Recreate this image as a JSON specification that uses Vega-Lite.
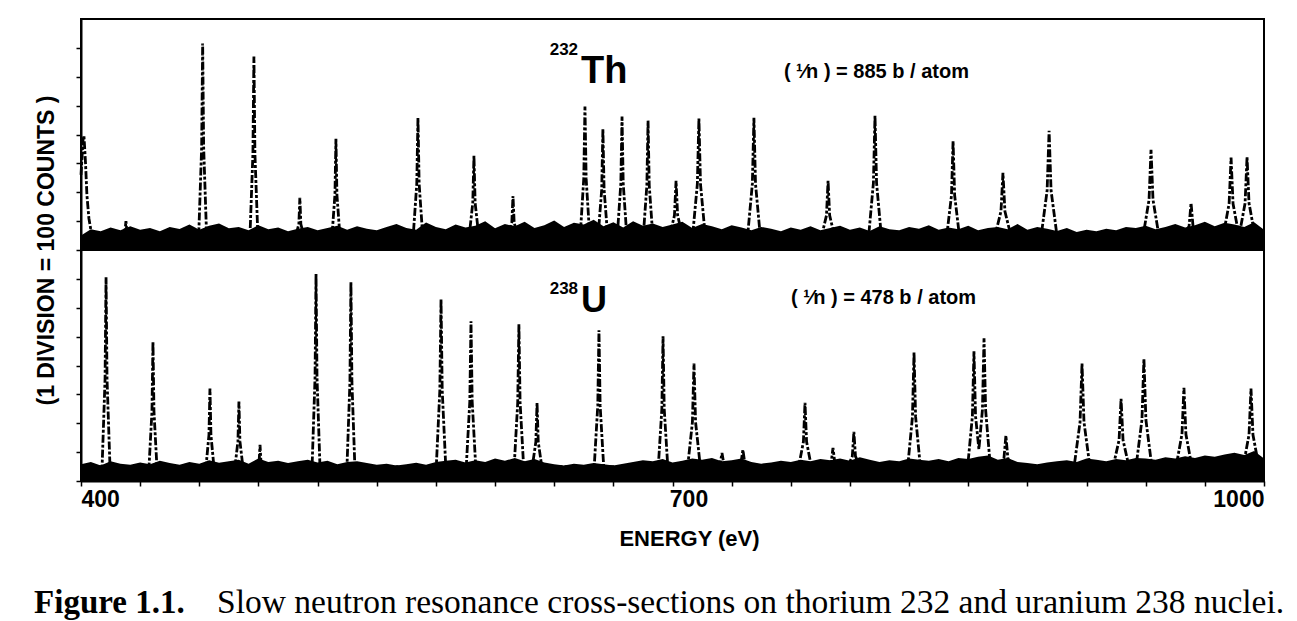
{
  "$schema": "https://vega.github.io/schema/vega-lite/v6.json",
  "background": "white",
  "padding": {"left": 33, "top": 18, "right": 6, "bottom": 4},
  "spacing": 0,
  "bounds": "flush",
  "config": {
    "view": {"stroke": "black", "strokeWidth": 2},
    "axis": {"domainColor": "black", "domainWidth": 2, "tickColor": "black", "tickWidth": 1.5, "labelColor": "black", "titleColor": "black", "grid": false, "labelOverlap": false}
  },
  "datasets": {
    "band": [
      {"e":400,"th":50,"u":58},{"e":405,"th":72,"u":66},{"e":410,"th":65,"u":54},{"e":415,"th":78,"u":68},{"e":420,"th":68,"u":60},
      {"e":425,"th":82,"u":56},{"e":430,"th":70,"u":64},{"e":435,"th":76,"u":58},{"e":440,"th":65,"u":70},{"e":445,"th":80,"u":62},
      {"e":450,"th":73,"u":56},{"e":455,"th":88,"u":66},{"e":460,"th":70,"u":60},{"e":465,"th":84,"u":72},{"e":470,"th":92,"u":63},
      {"e":475,"th":75,"u":68},{"e":480,"th":80,"u":74},{"e":485,"th":68,"u":60},{"e":490,"th":86,"u":78},{"e":495,"th":72,"u":66},
      {"e":500,"th":78,"u":70},{"e":505,"th":65,"u":62},{"e":510,"th":74,"u":68},{"e":515,"th":80,"u":74},{"e":520,"th":68,"u":64},
      {"e":525,"th":76,"u":70},{"e":530,"th":84,"u":58},{"e":535,"th":70,"u":66},{"e":540,"th":82,"u":68},{"e":545,"th":74,"u":62},
      {"e":550,"th":68,"u":56},{"e":555,"th":80,"u":60},{"e":560,"th":90,"u":54},{"e":565,"th":76,"u":58},{"e":570,"th":70,"u":63},
      {"e":575,"th":95,"u":56},{"e":580,"th":80,"u":66},{"e":585,"th":72,"u":70},{"e":590,"th":88,"u":74},{"e":595,"th":78,"u":64},
      {"e":600,"th":84,"u":72},{"e":605,"th":100,"u":66},{"e":610,"th":75,"u":78},{"e":615,"th":90,"u":70},{"e":620,"th":82,"u":80},
      {"e":625,"th":98,"u":68},{"e":630,"th":76,"u":76},{"e":635,"th":86,"u":64},{"e":640,"th":102,"u":58},{"e":645,"th":80,"u":54},
      {"e":650,"th":94,"u":60},{"e":655,"th":88,"u":56},{"e":660,"th":105,"u":62},{"e":665,"th":82,"u":58},{"e":670,"th":96,"u":54},
      {"e":675,"th":78,"u":60},{"e":680,"th":100,"u":66},{"e":685,"th":84,"u":72},{"e":690,"th":92,"u":68},{"e":695,"th":80,"u":76},
      {"e":700,"th":88,"u":64},{"e":705,"th":98,"u":70},{"e":710,"th":76,"u":78},{"e":715,"th":90,"u":74},{"e":720,"th":82,"u":80},
      {"e":725,"th":72,"u":68},{"e":730,"th":86,"u":72},{"e":735,"th":78,"u":78},{"e":740,"th":68,"u":66},{"e":745,"th":80,"u":60},
      {"e":750,"th":74,"u":64},{"e":755,"th":65,"u":70},{"e":760,"th":78,"u":66},{"e":765,"th":70,"u":74},{"e":770,"th":82,"u":68},
      {"e":775,"th":68,"u":76},{"e":780,"th":76,"u":72},{"e":785,"th":84,"u":78},{"e":790,"th":70,"u":70},{"e":795,"th":78,"u":82},
      {"e":800,"th":66,"u":74},{"e":805,"th":82,"u":66},{"e":810,"th":72,"u":72},{"e":815,"th":68,"u":68},{"e":820,"th":80,"u":78},
      {"e":825,"th":74,"u":74},{"e":830,"th":86,"u":70},{"e":835,"th":70,"u":76},{"e":840,"th":78,"u":68},{"e":845,"th":72,"u":80},
      {"e":850,"th":84,"u":76},{"e":855,"th":68,"u":84},{"e":860,"th":76,"u":88},{"e":865,"th":80,"u":74},{"e":870,"th":72,"u":80},
      {"e":875,"th":90,"u":66},{"e":880,"th":70,"u":62},{"e":885,"th":80,"u":58},{"e":890,"th":74,"u":64},{"e":895,"th":66,"u":68},
      {"e":900,"th":76,"u":72},{"e":905,"th":62,"u":66},{"e":910,"th":70,"u":78},{"e":915,"th":65,"u":74},{"e":920,"th":74,"u":68},
      {"e":925,"th":68,"u":76},{"e":930,"th":80,"u":72},{"e":935,"th":76,"u":80},{"e":940,"th":84,"u":78},{"e":945,"th":72,"u":74},
      {"e":950,"th":80,"u":82},{"e":955,"th":90,"u":78},{"e":960,"th":78,"u":86},{"e":965,"th":86,"u":80},{"e":970,"th":98,"u":88},
      {"e":975,"th":82,"u":84},{"e":980,"th":94,"u":92},{"e":985,"th":88,"u":98},{"e":990,"th":80,"u":90},{"e":995,"th":96,"u":104},
      {"e":1000,"th":70,"u":78}
    ],
    "peaks": [
      {"s":"Th","e":400,"c":260},{"s":"Th","e":401,"c":380},{"s":"Th","e":401.5,"c":396},{"s":"Th","e":402.3,"c":300},{"s":"Th","e":403,"c":190},{"s":"Th","e":404,"c":110},{"s":"Th","e":405.5,"c":50},
      {"s":"Th","e":420.8,"c":50},{"s":"Th","e":422.3,"c":65},{"s":"Th","e":422.8,"c":100},{"s":"Th","e":423.3,"c":60},{"s":"Th","e":424.8,"c":50},
      {"s":"Th","e":459.7,"c":50},{"s":"Th","e":461.2,"c":358},{"s":"Th","e":461.7,"c":715},{"s":"Th","e":462.2,"c":358},{"s":"Th","e":463.7,"c":50},
      {"s":"Th","e":485.7,"c":50},{"s":"Th","e":487.2,"c":335},{"s":"Th","e":487.7,"c":670},{"s":"Th","e":488.2,"c":335},{"s":"Th","e":489.7,"c":50},
      {"s":"Th","e":509,"c":50},{"s":"Th","e":510.5,"c":90},{"s":"Th","e":511,"c":181},{"s":"Th","e":511.5,"c":90},{"s":"Th","e":513,"c":50},
      {"s":"Th","e":527.3,"c":50},{"s":"Th","e":528.8,"c":192},{"s":"Th","e":529.3,"c":385},{"s":"Th","e":529.8,"c":192},{"s":"Th","e":531.3,"c":50},
      {"s":"Th","e":568.5,"c":50},{"s":"Th","e":570.3,"c":229},{"s":"Th","e":570.9,"c":458},{"s":"Th","e":571.5,"c":229},{"s":"Th","e":573.3,"c":50},
      {"s":"Th","e":596.9,"c":50},{"s":"Th","e":598.7,"c":163},{"s":"Th","e":599.3,"c":326},{"s":"Th","e":599.9,"c":163},{"s":"Th","e":601.7,"c":50},
      {"s":"Th","e":616.7,"c":50},{"s":"Th","e":618.5,"c":94},{"s":"Th","e":619.1,"c":187},{"s":"Th","e":619.7,"c":94},{"s":"Th","e":621.5,"c":50},
      {"s":"Th","e":653.2,"c":50},{"s":"Th","e":655,"c":248},{"s":"Th","e":655.6,"c":497},{"s":"Th","e":656.2,"c":248},{"s":"Th","e":658,"c":50},
      {"s":"Th","e":662.3,"c":50},{"s":"Th","e":664.1,"c":210},{"s":"Th","e":664.7,"c":420},{"s":"Th","e":665.3,"c":210},{"s":"Th","e":667.1,"c":50},
      {"s":"Th","e":672,"c":50},{"s":"Th","e":673.8,"c":231},{"s":"Th","e":674.4,"c":462},{"s":"Th","e":675,"c":231},{"s":"Th","e":676.8,"c":50},
      {"s":"Th","e":685.2,"c":50},{"s":"Th","e":687,"c":224},{"s":"Th","e":687.6,"c":448},{"s":"Th","e":688.2,"c":224},{"s":"Th","e":690,"c":50},
      {"s":"Th","e":698.6,"c":50},{"s":"Th","e":701,"c":120},{"s":"Th","e":701.8,"c":240},{"s":"Th","e":702.6,"c":120},{"s":"Th","e":705,"c":50},
      {"s":"Th","e":710.2,"c":50},{"s":"Th","e":712.6,"c":228},{"s":"Th","e":713.4,"c":455},{"s":"Th","e":714.2,"c":228},{"s":"Th","e":716.6,"c":50},
      {"s":"Th","e":738.1,"c":50},{"s":"Th","e":740.5,"c":229},{"s":"Th","e":741.3,"c":458},{"s":"Th","e":742.1,"c":229},{"s":"Th","e":744.5,"c":50},
      {"s":"Th","e":775.7,"c":50},{"s":"Th","e":778.1,"c":120},{"s":"Th","e":778.9,"c":240},{"s":"Th","e":779.7,"c":120},{"s":"Th","e":782.1,"c":50},
      {"s":"Th","e":799.5,"c":50},{"s":"Th","e":801.9,"c":232},{"s":"Th","e":802.7,"c":465},{"s":"Th","e":803.5,"c":232},{"s":"Th","e":805.9,"c":50},
      {"s":"Th","e":839.1,"c":50},{"s":"Th","e":841.5,"c":189},{"s":"Th","e":842.3,"c":378},{"s":"Th","e":843.1,"c":189},{"s":"Th","e":845.5,"c":50},
      {"s":"Th","e":863.6,"c":50},{"s":"Th","e":866.6,"c":134},{"s":"Th","e":867.6,"c":267},{"s":"Th","e":868.6,"c":134},{"s":"Th","e":871.6,"c":50},
      {"s":"Th","e":887,"c":50},{"s":"Th","e":890,"c":206},{"s":"Th","e":891,"c":413},{"s":"Th","e":892,"c":206},{"s":"Th","e":895,"c":50},
      {"s":"Th","e":938.7,"c":50},{"s":"Th","e":941.7,"c":174},{"s":"Th","e":942.7,"c":347},{"s":"Th","e":943.7,"c":174},{"s":"Th","e":946.7,"c":50},
      {"s":"Th","e":959,"c":50},{"s":"Th","e":962,"c":82},{"s":"Th","e":963,"c":163},{"s":"Th","e":964,"c":82},{"s":"Th","e":967,"c":50},
      {"s":"Th","e":979.3,"c":50},{"s":"Th","e":982.3,"c":160},{"s":"Th","e":983.3,"c":320},{"s":"Th","e":984.3,"c":160},{"s":"Th","e":987.3,"c":50},
      {"s":"Th","e":987.4,"c":50},{"s":"Th","e":990.4,"c":162},{"s":"Th","e":991.4,"c":323},{"s":"Th","e":992.4,"c":162},{"s":"Th","e":995.4,"c":50},
      {"s":"Th","e":1000,"c":50},
      {"s":"U","e":400,"c":50},
      {"s":"U","e":410.7,"c":50},{"s":"U","e":412.2,"c":353},{"s":"U","e":412.7,"c":706},{"s":"U","e":413.2,"c":353},{"s":"U","e":414.7,"c":50},
      {"s":"U","e":434.5,"c":50},{"s":"U","e":436,"c":242},{"s":"U","e":436.5,"c":483},{"s":"U","e":437,"c":242},{"s":"U","e":438.5,"c":50},
      {"s":"U","e":463.4,"c":50},{"s":"U","e":464.9,"c":160},{"s":"U","e":465.4,"c":320},{"s":"U","e":465.9,"c":160},{"s":"U","e":467.4,"c":50},
      {"s":"U","e":478.1,"c":50},{"s":"U","e":479.6,"c":138},{"s":"U","e":480.1,"c":275},{"s":"U","e":480.6,"c":138},{"s":"U","e":482.1,"c":50},
      {"s":"U","e":488.8,"c":50},{"s":"U","e":490.3,"c":62},{"s":"U","e":490.8,"c":125},{"s":"U","e":491.3,"c":62},{"s":"U","e":492.8,"c":50},
      {"s":"U","e":517.2,"c":50},{"s":"U","e":518.7,"c":358},{"s":"U","e":519.2,"c":717},{"s":"U","e":519.7,"c":358},{"s":"U","e":521.2,"c":50},
      {"s":"U","e":534.9,"c":50},{"s":"U","e":536.4,"c":344},{"s":"U","e":536.9,"c":689},{"s":"U","e":537.4,"c":344},{"s":"U","e":538.9,"c":50},
      {"s":"U","e":580.2,"c":50},{"s":"U","e":582,"c":315},{"s":"U","e":582.6,"c":630},{"s":"U","e":583.2,"c":315},{"s":"U","e":585,"c":50},
      {"s":"U","e":595.4,"c":50},{"s":"U","e":597.2,"c":276},{"s":"U","e":597.8,"c":553},{"s":"U","e":598.4,"c":276},{"s":"U","e":600.2,"c":50},
      {"s":"U","e":619.7,"c":50},{"s":"U","e":621.5,"c":272},{"s":"U","e":622.1,"c":543},{"s":"U","e":622.7,"c":272},{"s":"U","e":624.5,"c":50},
      {"s":"U","e":628.9,"c":50},{"s":"U","e":630.7,"c":136},{"s":"U","e":631.3,"c":271},{"s":"U","e":631.9,"c":136},{"s":"U","e":633.7,"c":50},
      {"s":"U","e":660.3,"c":50},{"s":"U","e":662.1,"c":261},{"s":"U","e":662.7,"c":522},{"s":"U","e":663.3,"c":261},{"s":"U","e":665.1,"c":50},
      {"s":"U","e":692.8,"c":50},{"s":"U","e":694.6,"c":250},{"s":"U","e":695.2,"c":501},{"s":"U","e":695.8,"c":250},{"s":"U","e":697.6,"c":50},
      {"s":"U","e":707.7,"c":50},{"s":"U","e":710.1,"c":204},{"s":"U","e":710.9,"c":407},{"s":"U","e":711.7,"c":204},{"s":"U","e":714.1,"c":50},
      {"s":"U","e":721.9,"c":50},{"s":"U","e":724.3,"c":65},{"s":"U","e":725.1,"c":97},{"s":"U","e":725.9,"c":65},{"s":"U","e":728.3,"c":50},
      {"s":"U","e":732.5,"c":50},{"s":"U","e":734.9,"c":70},{"s":"U","e":735.7,"c":108},{"s":"U","e":736.5,"c":70},{"s":"U","e":738.9,"c":50},
      {"s":"U","e":764,"c":50},{"s":"U","e":766.4,"c":136},{"s":"U","e":767.2,"c":271},{"s":"U","e":768,"c":136},{"s":"U","e":770.4,"c":50},
      {"s":"U","e":778.2,"c":50},{"s":"U","e":780.6,"c":70},{"s":"U","e":781.4,"c":115},{"s":"U","e":782.2,"c":70},{"s":"U","e":784.6,"c":50},
      {"s":"U","e":788.8,"c":50},{"s":"U","e":791.2,"c":85},{"s":"U","e":792,"c":170},{"s":"U","e":792.8,"c":85},{"s":"U","e":795.2,"c":50},
      {"s":"U","e":819.3,"c":50},{"s":"U","e":821.7,"c":222},{"s":"U","e":822.5,"c":445},{"s":"U","e":823.3,"c":222},{"s":"U","e":825.7,"c":50},
      {"s":"U","e":849.7,"c":50},{"s":"U","e":852.1,"c":224},{"s":"U","e":852.9,"c":449},{"s":"U","e":853.7,"c":224},{"s":"U","e":855.4,"c":110},
      {"s":"U","e":857.2,"c":247},{"s":"U","e":858,"c":494},{"s":"U","e":858.8,"c":247},{"s":"U","e":861.2,"c":50},
      {"s":"U","e":865.1,"c":50},{"s":"U","e":868.1,"c":78},{"s":"U","e":869.1,"c":157},{"s":"U","e":870.1,"c":78},{"s":"U","e":873.1,"c":50},
      {"s":"U","e":903.7,"c":50},{"s":"U","e":906.7,"c":204},{"s":"U","e":907.7,"c":407},{"s":"U","e":908.7,"c":204},{"s":"U","e":911.7,"c":50},
      {"s":"U","e":923.5,"c":50},{"s":"U","e":926.5,"c":142},{"s":"U","e":927.5,"c":285},{"s":"U","e":928.5,"c":142},{"s":"U","e":931.5,"c":50},
      {"s":"U","e":935.1,"c":50},{"s":"U","e":938.1,"c":212},{"s":"U","e":939.1,"c":424},{"s":"U","e":940.1,"c":212},{"s":"U","e":943.1,"c":50},
      {"s":"U","e":955.4,"c":50},{"s":"U","e":958.4,"c":162},{"s":"U","e":959.4,"c":323},{"s":"U","e":960.4,"c":162},{"s":"U","e":963.4,"c":50},
      {"s":"U","e":989.4,"c":50},{"s":"U","e":992.4,"c":160},{"s":"U","e":993.4,"c":320},{"s":"U","e":994.4,"c":160},{"s":"U","e":997.4,"c":50},
      {"s":"U","e":1000,"c":50}
    ]
  },
  "vconcat": [
    {
      "width": 1183,
      "height": 231,
      "resolve": {"axis": {"x": "independent", "y": "independent"}},
      "layer": [
        {
          "data": {"name": "band"},
          "mark": {"type": "area", "color": "black"},
          "encoding": {
            "x": {"field": "e", "type": "quantitative", "scale": {"domain": [400, 1000], "nice": false}, "axis": null},
            "y": {"field": "th", "type": "quantitative", "scale": {"domain": [0, 800], "nice": false},
                  "axis": {"values": [0, 100, 200, 300, 400, 500, 600, 700], "labels": false, "tickSize": 5,
                           "title": "(1 DIVISION = 100 COUNTS )", "titleFont": "Liberation Sans", "titleFontWeight": "bold", "titleFontSize": 23,
                           "titleX": -35, "titleY": 231, "titleAngle": -90, "titleAlign": "center", "titleBaseline": "middle"}},
            "y2": {"datum": 0}
          }
        },
        {
          "data": {"name": "peaks"},
          "transform": [{"filter": "datum.s == 'Th'"}],
          "mark": {"type": "line", "color": "black", "strokeWidth": 2.8, "strokeDash": [8, 2, 3, 2]},
          "encoding": {
            "x": {"field": "e", "type": "quantitative", "axis": null},
            "y": {"field": "c", "type": "quantitative", "axis": null}
          }
        },
        {
          "data": {"values": [{}]},
          "mark": {"type": "text", "text": "232", "font": "Liberation Sans", "fontWeight": "bold", "fontSize": 17, "align": "right", "baseline": "alphabetic"},
          "encoding": {"x": {"datum": 652.1, "type": "quantitative", "axis": null}, "y": {"datum": 675, "type": "quantitative", "axis": null}}
        },
        {
          "data": {"values": [{}]},
          "mark": {"type": "text", "text": "Th", "font": "Liberation Sans", "fontWeight": "bold", "fontSize": 38, "align": "left", "baseline": "alphabetic"},
          "encoding": {"x": {"datum": 653.6, "type": "quantitative", "axis": null}, "y": {"datum": 577, "type": "quantitative", "axis": null}}
        },
        {
          "data": {"values": [{}]},
          "mark": {"type": "text", "text": "( ¹⁄n ) = 885 b / atom", "font": "Liberation Sans", "fontWeight": "bold", "fontSize": 20, "align": "left", "baseline": "alphabetic"},
          "encoding": {"x": {"datum": 756.5, "type": "quantitative", "axis": null}, "y": {"datum": 595, "type": "quantitative", "axis": null}}
        }
      ]
    },
    {
      "width": 1183,
      "height": 231,
      "resolve": {"axis": {"x": "independent", "y": "independent"}},
      "layer": [
        {
          "data": {"name": "band"},
          "mark": {"type": "area", "color": "black"},
          "encoding": {
            "x": {"field": "e", "type": "quantitative", "scale": {"domain": [400, 1000], "nice": false},
                  "axis": {"values": [400, 430, 460, 490, 520, 550, 580, 610, 640, 670, 700, 730, 760, 790, 820, 850, 880, 910, 940, 970, 1000],
                           "tickSize": 5, "format": "d", "labelExpr": "datum.value % 300 == 100 ? datum.label : ''", "labelFlush": true,
                           "labelFont": "Liberation Sans", "labelFontWeight": "bold", "labelFontSize": 23, "labelPadding": 2,
                           "labelOffset": {"condition": {"test": "datum.value == 700", "value": 16}, "value": 0},
                           "title": "ENERGY (eV)", "titleFont": "Liberation Sans", "titleFontWeight": "bold", "titleFontSize": 22,
                           "titleX": 608, "titleY": 57, "titleBaseline": "middle", "titleAlign": "center"}},
            "y": {"field": "u", "type": "quantitative", "scale": {"domain": [0, 800], "nice": false},
                  "axis": {"values": [0, 100, 200, 300, 400, 500, 600, 700], "labels": false, "tickSize": 5, "title": null}},
            "y2": {"datum": 0}
          }
        },
        {
          "data": {"name": "peaks"},
          "transform": [{"filter": "datum.s == 'U'"}],
          "mark": {"type": "line", "color": "black", "strokeWidth": 2.8, "strokeDash": [8, 2, 3, 2]},
          "encoding": {
            "x": {"field": "e", "type": "quantitative", "axis": null},
            "y": {"field": "c", "type": "quantitative", "axis": null}
          }
        },
        {
          "data": {"values": [{}]},
          "mark": {"type": "text", "text": "238", "font": "Liberation Sans", "fontWeight": "bold", "fontSize": 17, "align": "right", "baseline": "alphabetic"},
          "encoding": {"x": {"datum": 652.1, "type": "quantitative", "axis": null}, "y": {"datum": 647, "type": "quantitative", "axis": null}}
        },
        {
          "data": {"values": [{}]},
          "mark": {"type": "text", "text": "U", "font": "Liberation Sans", "fontWeight": "bold", "fontSize": 36, "align": "left", "baseline": "alphabetic"},
          "encoding": {"x": {"datum": 653.6, "type": "quantitative", "axis": null}, "y": {"datum": 584, "type": "quantitative", "axis": null}}
        },
        {
          "data": {"values": [{}]},
          "mark": {"type": "text", "text": "( ¹⁄n ) = 478 b / atom", "font": "Liberation Sans", "fontWeight": "bold", "fontSize": 20, "align": "left", "baseline": "alphabetic"},
          "encoding": {"x": {"datum": 760.1, "type": "quantitative", "axis": null}, "y": {"datum": 612, "type": "quantitative", "axis": null}}
        },
        {
          "data": {"values": [{}]},
          "mark": {"type": "text", "text": "Figure 1.1.", "font": "Liberation Serif", "fontWeight": "bold", "fontSize": 33, "align": "left", "baseline": "alphabetic"},
          "encoding": {"x": {"datum": 376.2, "type": "quantitative", "axis": null}, "y": {"datum": -457, "type": "quantitative", "axis": null}}
        },
        {
          "data": {"values": [{}]},
          "mark": {"type": "text", "text": "Slow neutron resonance cross-sections on thorium 232 and uranium 238 nuclei.", "font": "Liberation Serif", "fontSize": 33.5, "align": "left", "baseline": "alphabetic"},
          "encoding": {"x": {"datum": 469, "type": "quantitative", "axis": null}, "y": {"datum": -457, "type": "quantitative", "axis": null}}
        }
      ]
    }
  ]
}
